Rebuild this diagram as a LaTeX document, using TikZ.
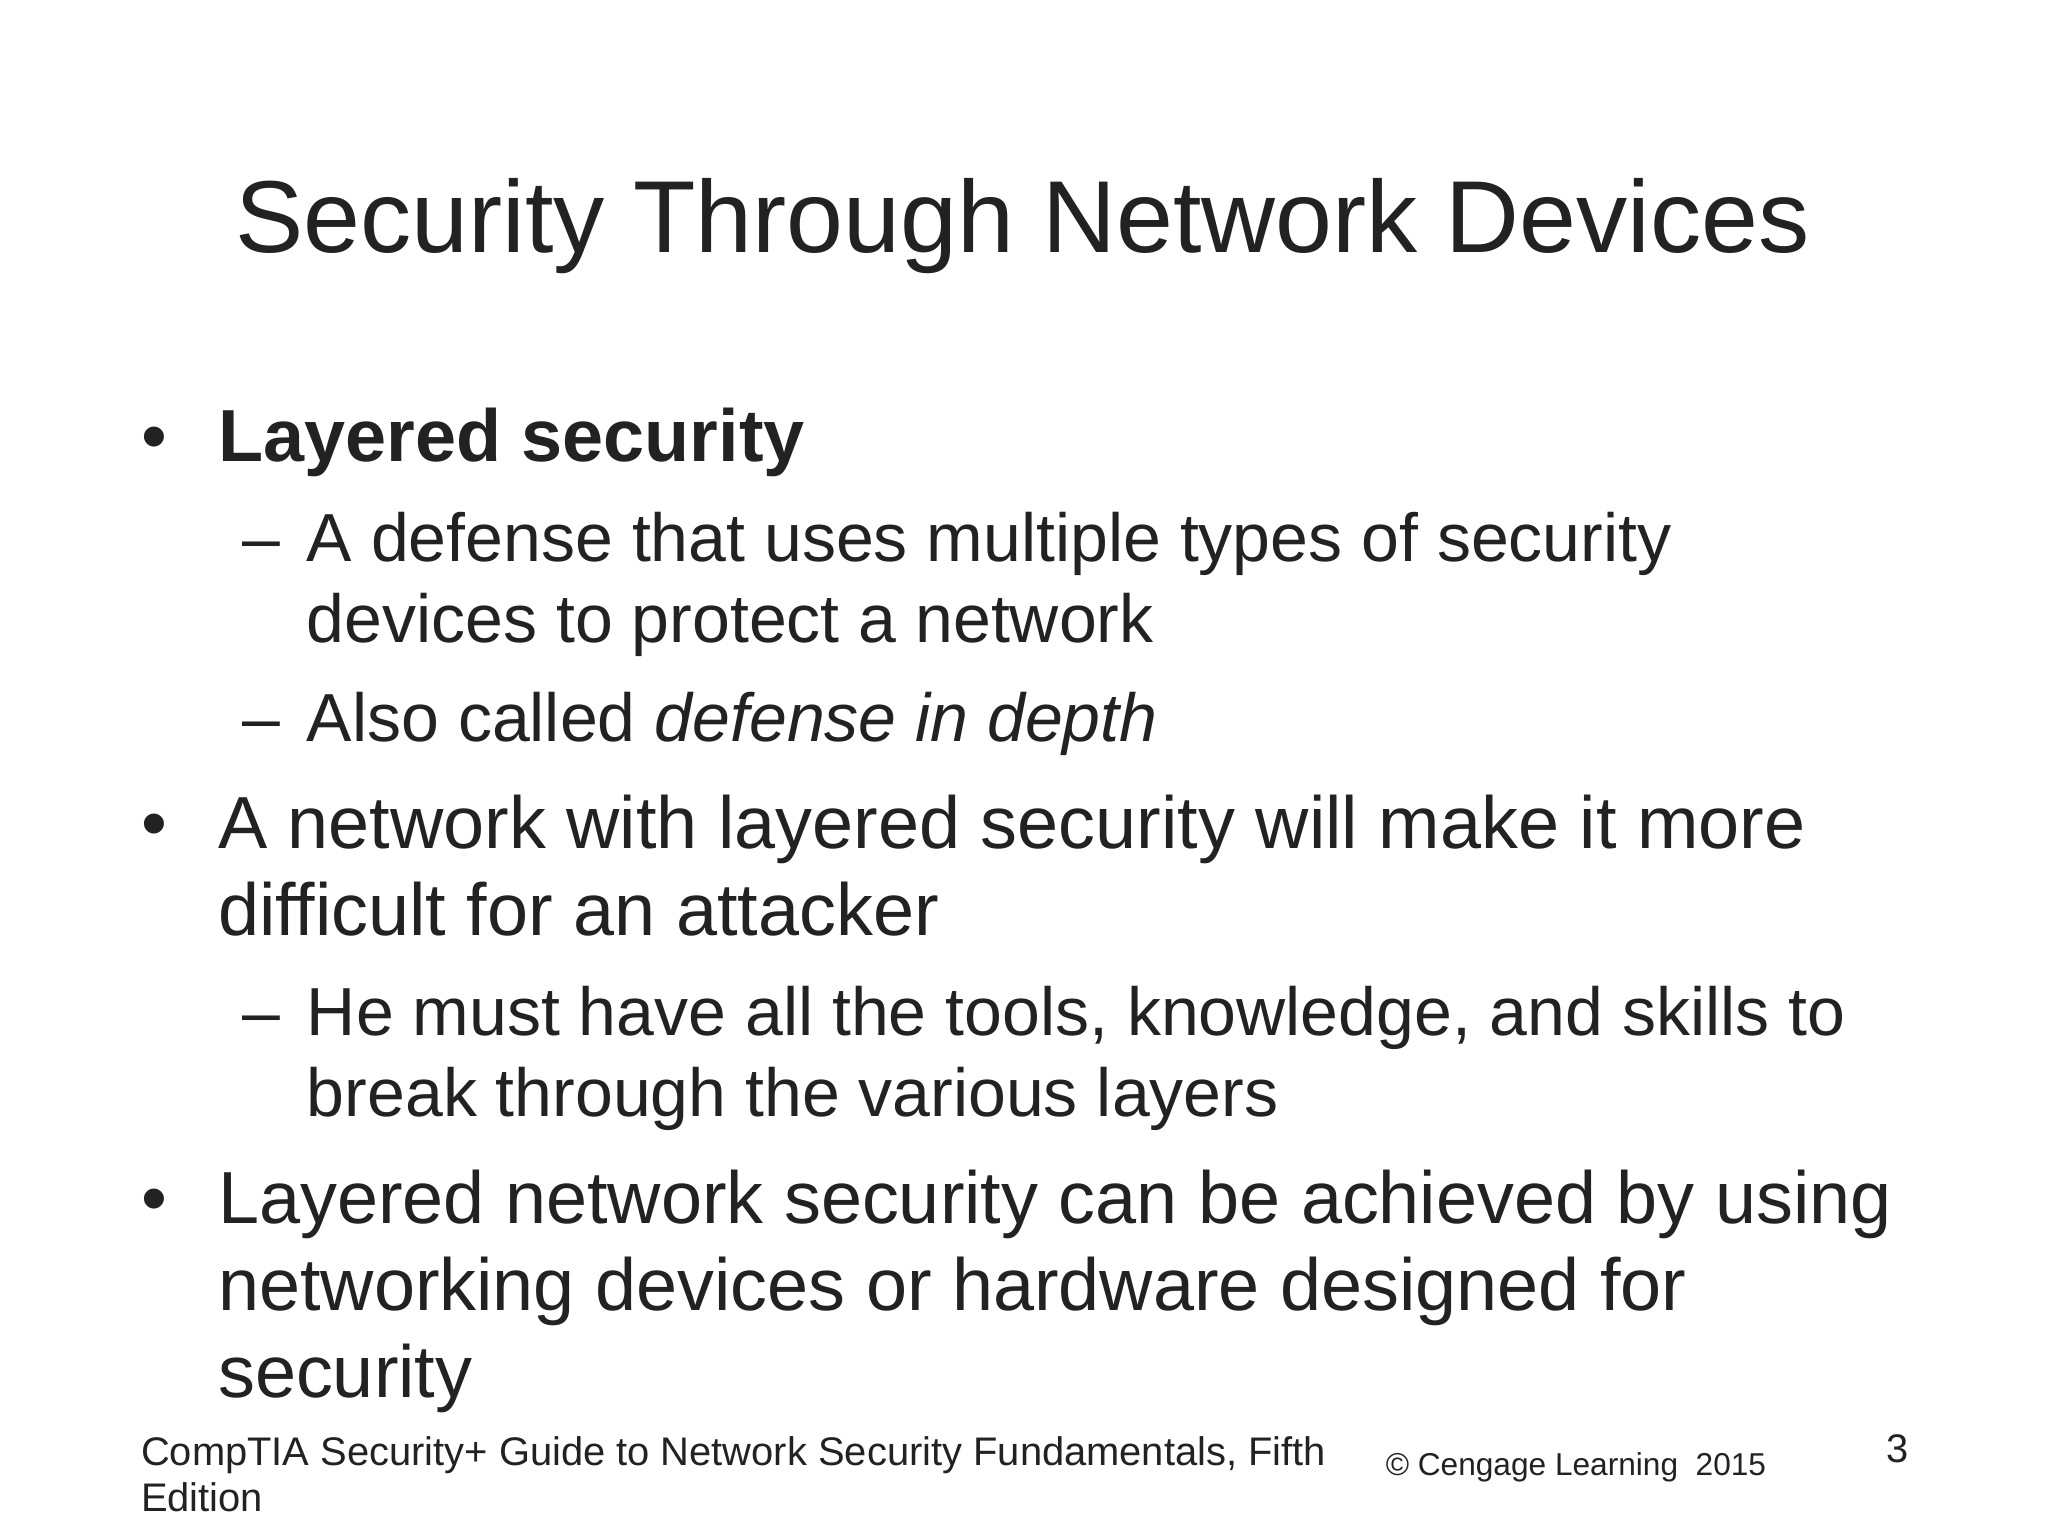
\documentclass[tikz,border=0pt]{standalone}
\usepackage{fontspec}
\setmainfont{Liberation Sans}
\definecolor{txt}{HTML}{222222}
\begin{document}
\begin{tikzpicture}[x=0.01306cm,y=-0.01306cm,
  every node/.style={inner sep=0pt,outer sep=0pt,text=txt,anchor=base west},
  main/.style={font=\fontsize{21}{25}\selectfont},
  sub/.style={font=\fontsize{19.35}{22}\selectfont},
  foot/.style={font=\fontsize{11.35}{13}\selectfont}]
\useasboundingbox[fill=white] (0,0) rectangle (1568,1176);
\node[anchor=base,font=\fontsize{29.1}{35}\selectfont] (title) at (783,193) {Security Through Network Devices};
\node[main] (b1) at (108,353) {•};
\node[main] (t1) at (167,353) {\bfseries Layered security};
\node[sub] (d1) at (186,430) {–};
\node[sub] (s1) at (235,430) {A defense that uses multiple types of security};
\node[sub] (s1b) at (235,492) {devices to protect a network};
\node[sub] (d2) at (186,568) {–};
\node[sub] (s2) at (235,568) {Also called \itshape defense in depth};
\node[main] (b2) at (108,650) {•};
\node[main] (t2) at (167,650) {A network with layered security will make it more};
\node[main] (t2b) at (167,716) {difficult for an attacker};
\node[sub] (d3) at (186,793) {–};
\node[sub] (s3) at (235,793) {He must have all the tools, knowledge, and skills to};
\node[sub] (s3b) at (235,855) {break through the various layers};
\node[main] (b3) at (108,937) {•};
\node[main] (t3) at (167,937) {Layered network security can be achieved by using};
\node[main] (t3b) at (167,1003) {networking devices or hardware designed for};
\node[main] (t3c) at (167,1070) {security};
\node[foot] (f1) at (108,1122) {CompTIA Security+ Guide to Network Security Fundamentals, Fifth};
\node[foot] (f2) at (108,1157) {Edition};
\node[foot,font=\fontsize{9}{11}\selectfont] (f3) at (1061,1130) {© Cengage Learning\ \ 2015};
\node[foot,anchor=base east] (f4) at (1461,1120) {3};
\end{tikzpicture}
\end{document}
